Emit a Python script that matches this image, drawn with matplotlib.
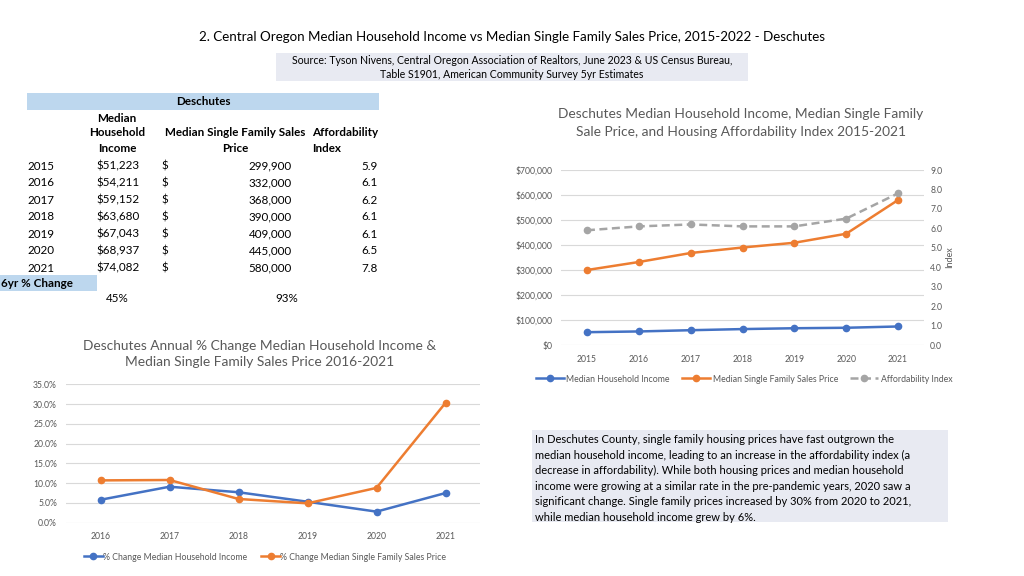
import matplotlib
matplotlib.use("Agg")
import matplotlib.pyplot as plt
from matplotlib.patches import Rectangle
from matplotlib.ticker import FuncFormatter, MultipleLocator

# ---------------- data ----------------
years = [2015, 2016, 2017, 2018, 2019, 2020, 2021]
income = [51223, 54211, 59152, 63680, 67043, 68937, 74082]
price = [299900, 332000, 368000, 390000, 409000, 445000, 580000]
afford_index = [5.9, 6.1, 6.2, 6.1, 6.1, 6.5, 7.8]
change_labels = ["45%", "93%"]

pct_years = [2016, 2017, 2018, 2019, 2020, 2021]
pct_income = [5.8, 9.1, 7.7, 5.3, 2.8, 7.5]
pct_price = [10.7, 10.8, 6.0, 4.9, 8.8, 30.3]

title = "2. Central Oregon Median Household Income vs Median Single Family Sales Price, 2015-2022 - Deschutes"
source = ("Source: Tyson Nivens, Central Oregon Association of Realtors, June 2023 & US Census Bureau,\n"
          "Table S1901, American Community Survey 5yr Estimates")
chart1_title = "Deschutes Median Household Income, Median Single Family\nSale Price, and Housing Affordability Index 2015-2021"
chart2_title = "Deschutes Annual % Change Median Household Income &\nMedian Single Family Sales Price 2016-2021"
note = ("In Deschutes County, single family housing prices have fast outgrown the\n"
        "median household income, leading to an increase in the affordability index (a\n"
        "decrease in affordability). While both housing prices and median household\n"
        "income were growing at a similar rate in the pre-pandemic years, 2020 saw a\n"
        "significant change. Single family prices increased by 30% from 2020 to 2021,\n"
        "while median household income grew by 6%.")

BLUE = "#4472C4"
ORANGE = "#ED7D31"
GRAY = "#A5A5A5"
TICK = "#595959"
GRID = "#D9D9D9"
FONT = "Lato"

W, H = 1024, 576
fig = plt.figure(figsize=(W / 100, H / 100), dpi=100)
plt.rcParams['font.family'] = [FONT, 'DejaVu Sans']


def fx(x):
    return x / W


def fy(y):
    return 1 - y / H


def ptext(x, y, s, **kw):
    fig.text(fx(x), fy(y), s, **kw)


def add_ax(l, t, r, b):
    return fig.add_axes([fx(l), fy(b), (r - l) / W, (b - t) / H])


# ---------------- title & source ----------------
ptext(512, 37, title, ha="center", va="center", fontsize=9.6, color="black")
fig.patches.append(Rectangle((fx(276), fy(81)), (748 - 276) / W, (81 - 53) / H,
                             transform=fig.transFigure, facecolor="#E8EAF2", edgecolor="none"))
ptext(512, 67.5, source, ha="center", va="center", fontsize=7.6, color="black", linespacing=1.3)

# ---------------- table ----------------
fig.patches.append(Rectangle((fx(27), fy(110)), (379 - 27) / W, 17 / H,
                             transform=fig.transFigure, facecolor="#BDD7EE", edgecolor="none"))
fig.patches.append(Rectangle((fx(0), fy(291)), 97 / W, 16 / H,
                             transform=fig.transFigure, facecolor="#BDD7EE", edgecolor="none"))
tfs = 8.4
ptext(203, 101.5, "Deschutes", ha="center", va="center", fontsize=tfs, fontweight="bold")
ptext(117, 118, "Median", ha="center", va="center", fontsize=tfs, fontweight="bold")
ptext(117, 133, "Household", ha="center", va="center", fontsize=tfs, fontweight="bold")
ptext(117, 149, "Income", ha="center", va="center", fontsize=tfs, fontweight="bold")
ptext(235, 133, "Median Single Family Sales", ha="center", va="center", fontsize=tfs, fontweight="bold")
ptext(235, 149, "Price", ha="center", va="center", fontsize=tfs, fontweight="bold")
ptext(312, 133, "Affordability", ha="left", va="center", fontsize=tfs, fontweight="bold")
ptext(312, 149, "Index", ha="left", va="center", fontsize=tfs, fontweight="bold")
row_y = [166, 183, 200, 217, 234, 251, 268]
for yv, yr, inc, pr, ix in zip(row_y, years, income, price, afford_index):
    ptext(27, yv, str(yr), ha="left", va="center", fontsize=tfs)
    ptext(140, yv, f"${inc:,}", ha="right", va="center", fontsize=tfs)
    ptext(161, yv, "$", ha="left", va="center", fontsize=tfs)
    ptext(292, yv, f"{pr:,}", ha="right", va="center", fontsize=tfs)
    ptext(378, yv, f"{ix:.1f}", ha="right", va="center", fontsize=tfs)
ptext(1, 283.5, "6yr % Change", ha="left", va="center", fontsize=tfs, fontweight="bold")
ptext(117, 299, change_labels[0], ha="center", va="center", fontsize=tfs)
ptext(287, 299, change_labels[1], ha="center", va="center", fontsize=tfs)


def style_ax(ax):
    for s in ax.spines.values():
        s.set_visible(False)
    ax.tick_params(length=0, labelsize=6.2, labelcolor=TICK)
    ax.grid(axis="y", color=GRID, lw=0.8)
    ax.set_axisbelow(True)


# ---------------- chart 1 ----------------
ax1 = add_ax(561, 170, 924, 345)
style_ax(ax1)
xi = list(range(len(years)))
l1, = ax1.plot(xi, income, color=BLUE, lw=1.8, marker="o", ms=4.5, label="Median Household Income")
l2, = ax1.plot(xi, price, color=ORANGE, lw=1.8, marker="o", ms=4.5, label="Median Single Family Sales Price")
ax1.set_xlim(-0.5, len(years) - 0.5)
ax1.set_ylim(0, 700000)
ax1.yaxis.set_major_locator(MultipleLocator(100000))
ax1.yaxis.set_major_formatter(FuncFormatter(lambda v, p: f"${v:,.0f}"))
ax1.set_xticks(xi)
ax1.set_xticklabels([str(y) for y in years])
ax1.tick_params(axis="x", pad=7)
ax1.tick_params(axis="y", pad=6)
ax1b = ax1.twinx()
for s in ax1b.spines.values():
    s.set_visible(False)
ax1b.tick_params(length=0, labelsize=6.2, labelcolor=TICK, pad=4.5)
l3, = ax1b.plot(xi, afford_index, color=GRAY, lw=1.8, ls=(0, (3.2, 1.8)), marker="o", ms=4.5,
                label="Affordability Index")
ax1b.set_ylim(0, 9)
ax1b.yaxis.set_major_locator(MultipleLocator(1))
ax1b.yaxis.set_major_formatter(FuncFormatter(lambda v, p: f"{v:.1f}"))
ax1b.set_ylabel("Index", fontsize=6.5, color=TICK, labelpad=2)
fig.legend(handles=[l1, l2, l3], loc="center", bbox_to_anchor=(fx(744), fy(379)), ncol=3,
           frameon=False, fontsize=6.3, handlelength=3.2, columnspacing=1.4, handletextpad=0.3,
           labelcolor=TICK)
ptext(741, 123, chart1_title, ha="center", va="center", fontsize=9.9, color=TICK, linespacing=1.5)

# ---------------- chart 2 ----------------
ax2 = add_ax(66, 384.3, 480, 522.7)
style_ax(ax2)
xj = list(range(len(pct_years)))
m1, = ax2.plot(xj, pct_income, color=BLUE, lw=1.8, marker="o", ms=4.5, label="% Change Median Household Income")
m2, = ax2.plot(xj, pct_price, color=ORANGE, lw=1.8, marker="o", ms=4.5,
               label="% Change Median Single Family Sales Price")
ax2.set_xlim(-0.5, len(pct_years) - 0.5)
ax2.set_ylim(0, 35)
ax2.yaxis.set_major_locator(MultipleLocator(5))
ax2.yaxis.set_major_formatter(FuncFormatter(lambda v, p: f"{v:.1f}%"))
ax2.set_xticks(xj)
ax2.set_xticklabels([str(y) for y in pct_years])
ax2.tick_params(axis="x", pad=7)
ax2.tick_params(axis="y", pad=6.5)
fig.legend(handles=[m1, m2], loc="center", bbox_to_anchor=(fx(265), fy(557)), ncol=2,
           frameon=False, fontsize=6.3, handlelength=2.2, columnspacing=1.6, handletextpad=0.0,
           labelcolor=TICK)
ptext(260, 354, chart2_title, ha="center", va="center", fontsize=9.9, color=TICK, linespacing=1.5)

# ---------------- note box ----------------
fig.patches.append(Rectangle((fx(532), fy(522)), (948 - 532) / W, (522 - 430) / H,
                             transform=fig.transFigure, facecolor="#E8EAF2", edgecolor="none"))
ptext(535, 478.5, note, ha="left", va="center", fontsize=8.0, color="black", linespacing=1.5)

fig.savefig("out.png", dpi=100)
